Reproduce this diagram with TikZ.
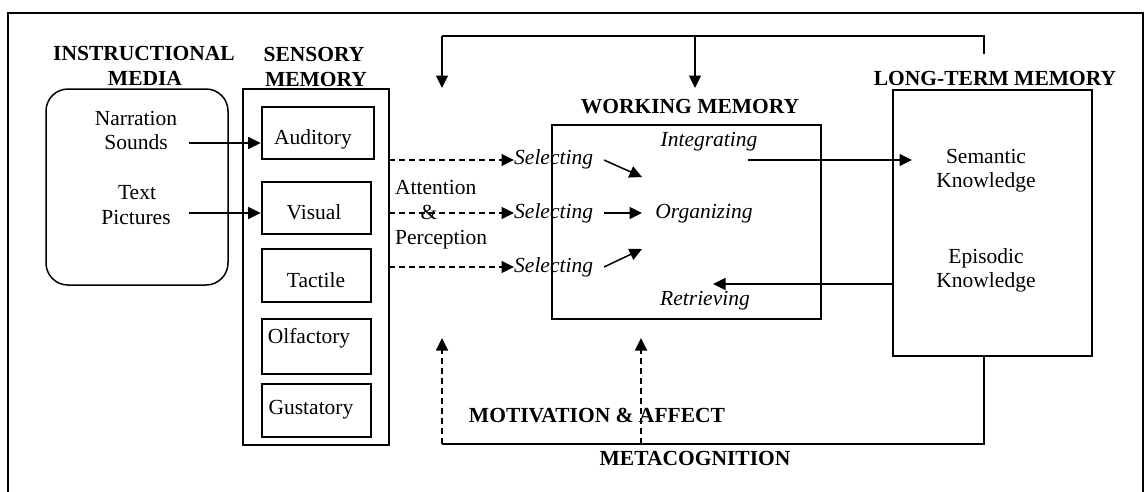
\documentclass[tikz,border=0pt]{standalone}
\usepackage{fontspec}
\setmainfont{Liberation Serif}
\usetikzlibrary{arrows.meta}
\begin{document}
\begin{tikzpicture}[x=1pt,y=-1pt,
  font=\fontsize{21.5}{25}\selectfont,
  thinbox/.style={draw, line width=1.5pt, inner sep=0pt},
  thickbox/.style={draw, line width=2.8pt, inner sep=0pt},
  txt/.style={inner sep=0pt, anchor=base},
  itxt/.style={txt, font=\fontsize{21.5}{25}\selectfont\itshape},
  btxt/.style={txt, font=\fontsize{21.5}{25}\selectfont\bfseries},
  arr/.style={line width=1.5pt, -{Triangle[length=12.5pt,width=12pt]}},
  darr/.style={arr, dash pattern=on 6pt off 4pt},
  conn/.style={line width=1.5pt},
  framestyle/.style={line width=1.2pt}
]
\useasboundingbox (0,0) rectangle (1144,491);
\draw[framestyle] (8,495) -- (8,13) -- (1143,13) -- (1143,495);

% titles
\node[btxt] (imt1) at (144,60) {INSTRUCTIONAL};
\node[btxt] (imt2) at (145,85) {MEDIA};
\node[btxt] (smt1) at (314,61) {SENSORY};
\node[btxt] (smt2) at (316,86) {MEMORY};
\node[btxt] (wmt) at (690,113) {WORKING MEMORY};
\node[btxt] (ltmt) at (995,85) {LONG-TERM MEMORY};
\node[btxt] (mat) at (597,422) {MOTIVATION \& AFFECT};
\node[btxt] (mct) at (695,465) {METACOGNITION};

% boxes
\node[thinbox, rounded corners=22pt, minimum width=182pt, minimum height=196pt] (media) at (137,187) {};
\node[thickbox, minimum width=146pt, minimum height=356pt] (sens) at (316,267) {};
\node[thickbox, minimum width=112pt, minimum height=52pt] (aud) at (318,133) {};
\node[thickbox, minimum width=109pt, minimum height=52pt] (vis) at (316.5,208) {};
\node[thickbox, minimum width=109pt, minimum height=53pt] (tac) at (316.5,275.5) {};
\node[thickbox, minimum width=109pt, minimum height=55pt] (olf) at (316.5,346.5) {};
\node[thickbox, minimum width=109pt, minimum height=53pt] (gus) at (316.5,410.5) {};
\node[thickbox, minimum width=269pt, minimum height=194pt] (wm) at (686.5,222) {};
\node[thinbox, minimum width=199pt, minimum height=266pt] (ltm) at (992.5,223) {};

% texts
\node[txt] (narr) at (136,125) {Narration};
\node[txt] (snd) at (136,149) {Sounds};
\node[txt] (text) at (137,199) {Text};
\node[txt] (pict) at (136,224) {Pictures};
\node[txt] (audt) at (313,144) {Auditory};
\node[txt] (vist) at (314,219) {Visual};
\node[txt] (tact) at (316,287) {Tactile};
\node[txt] (olft) at (309,343) {Olfactory};
\node[txt] (gust) at (311,414) {Gustatory};
\node[txt, anchor=base west] (att) at (395,194) {Attention};
\node[txt] (amp) at (429,219) {\&};
\node[txt, anchor=base west] (perc) at (395,244) {Perception};
\node[itxt, anchor=base west] (sel1) at (514,164) {Selecting};
\node[itxt, anchor=base west] (sel2) at (514,218) {Selecting};
\node[itxt, anchor=base west] (sel3) at (514,272) {Selecting};
\node[itxt] (integ) at (709,146) {Integrating};
\node[itxt] (organ) at (704,218) {Organizing};
\node[itxt] (retr) at (705,305) {Retrieving};
\node[txt] (sem1) at (986,163) {Semantic};
\node[txt] (sem2) at (986,187) {Knowledge};
\node[txt] (epi1) at (986,263) {Episodic};
\node[txt] (epi2) at (986,287) {Knowledge};

% coordinates
\coordinate (a1) at (189,143);
\coordinate (a2) at (189,213);
\coordinate (d1) at (389,160);
\coordinate (d2) at (389,213);
\coordinate (d3) at (389,267);
\coordinate (s1) at (604,160);
\coordinate (s2) at (604,213);
\coordinate (s3) at (604,267);
\coordinate (o1) at (642,177);
\coordinate (o2) at (642,213);
\coordinate (o3) at (642,249);
\coordinate (i1) at (748,160);
\coordinate (i2) at (912,160);
\coordinate (r1) at (893,284);
\coordinate (r2) at (713,284);
\coordinate (t0) at (984,54);
\coordinate (t1) at (984,36);
\coordinate (t2) at (442,36);
\coordinate (t3) at (442,88);
\coordinate (t4) at (695,36);
\coordinate (t5) at (695,88);
\coordinate (b0) at (984,356);
\coordinate (b1) at (984,444);
\coordinate (b2) at (442,444);
\coordinate (b3) at (442,338);
\coordinate (b4) at (641,444);
\coordinate (b5) at (641,338);

% connectors
\draw[arr] (a1) -- (a1 -| aud.west);
\draw[arr] (a2) -- (a2 -| vis.west);
\draw[darr] (d1) -- (d1 -| sel1.west);
\draw[darr] (d2) -- (d2 -| sel2.west);
\draw[darr] (d3) -- (d3 -| sel3.west);
\draw[arr] (s1) -- (o1);
\draw[arr] (s2) -- (o2);
\draw[arr] (s3) -- (o3);
\draw[arr] (i1) -- (i2);
\draw[arr] (r1) -- (r2);
\draw[conn] (t0) -- (t1) -- (t2);
\draw[arr] (t2) -- (t3);
\draw[arr] (t4) -- (t5);
\draw[conn] (b0) -- (b1) -- (b2);
\draw[darr] (b2) -- (b3);
\draw[darr] (b4) -- (b5);
\end{tikzpicture}
\end{document}
